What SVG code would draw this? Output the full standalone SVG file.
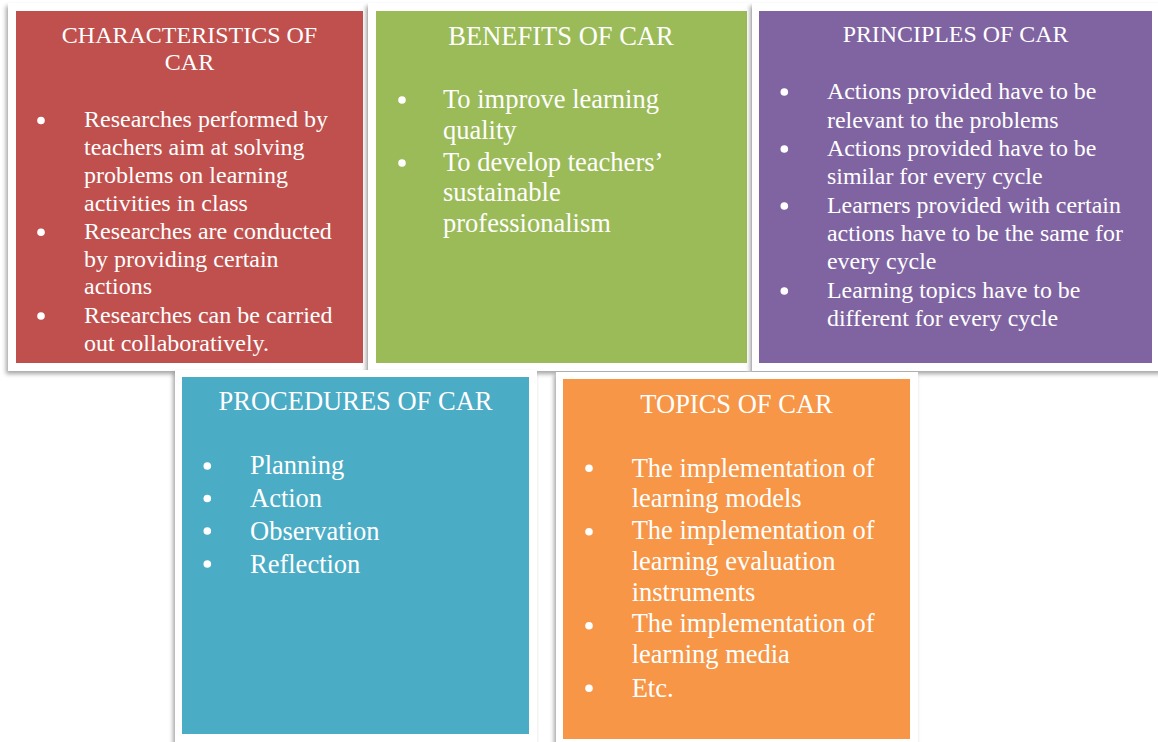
<svg xmlns="http://www.w3.org/2000/svg" width="1158" height="742" viewBox="0 0 1158 742">
<defs>
<filter id="sh" x="-10%" y="-10%" width="120%" height="120%">
<feDropShadow dx="-2" dy="3" stdDeviation="2" flood-color="#000" flood-opacity="0.35"/>
</filter>
</defs>
<style>
.frame{fill:#ffffff;filter:url(#sh)}
text{font-family:"Liberation Serif","Times New Roman",serif;fill:#ffffff}
.t{text-anchor:middle}
.b{fill:#ffffff}
</style>
<rect width="1158" height="742" fill="#ffffff"/>

<g id="characteristics">
<rect class="frame" x="8" y="3" width="359" height="368"/>
<rect x="16" y="11" width="347" height="352" fill="#C0504D"/>
<g font-size="24">
<text class="t" x="189.5" y="42.5">CHARACTERISTICS OF</text>
<text class="t" x="189.5" y="70">CAR</text>
<circle class="b" cx="41" cy="120.5" r="3.8"/>
<circle class="b" cx="41" cy="232.3" r="3.8"/>
<circle class="b" cx="41" cy="316" r="3.8"/>
<text x="84" y="127.3">Researches performed by</text>
<text x="84" y="155.2">teachers aim at solving</text>
<text x="84" y="183">problems on learning</text>
<text x="84" y="210.5">activities in class</text>
<text x="84" y="238.5">Researches are conducted</text>
<text x="84" y="266.5">by providing certain</text>
<text x="84" y="294.2">actions</text>
<text x="84" y="322.5">Researches can be carried</text>
<text x="84" y="350.5">out collaboratively.</text>
</g>
</g>

<g id="benefits">
<rect class="frame" x="368" y="3" width="383" height="368"/>
<rect x="376" y="11" width="371" height="352" fill="#9BBB59"/>
<g font-size="26.5">
<text class="t" x="561" y="45">BENEFITS OF CAR</text>
<circle class="b" cx="402" cy="100" r="3.8"/>
<circle class="b" cx="402" cy="163" r="3.8"/>
<text x="443" y="108.3">To improve learning</text>
<text x="443" y="139">quality</text>
<text x="443" y="170.5">To develop teachers’</text>
<text x="443" y="201">sustainable</text>
<text x="443" y="232">professionalism</text>
</g>
</g>

<g id="principles">
<rect class="frame" x="752" y="3" width="412" height="368"/>
<rect x="759" y="11" width="393" height="352" fill="#8064A2"/>
<g font-size="23.9">
<text class="t" x="955.5" y="41.7">PRINCIPLES OF CAR</text>
<circle class="b" cx="784.3" cy="92" r="3.8"/>
<circle class="b" cx="784.3" cy="149" r="3.8"/>
<circle class="b" cx="784.3" cy="206" r="3.8"/>
<circle class="b" cx="784.3" cy="291" r="3.8"/>
<text x="827" y="99.3">Actions provided have to be</text>
<text x="827" y="127.7">relevant to the problems</text>
<text x="827" y="156">Actions provided have to be</text>
<text x="827" y="184.3">similar for every cycle</text>
<text x="827" y="212.7">Learners provided with certain</text>
<text x="827" y="241">actions have to be the same for</text>
<text x="827" y="269.3">every cycle</text>
<text x="827" y="297.7">Learning topics have to be</text>
<text x="827" y="326">different for every cycle</text>
</g>
</g>

<g id="procedures">
<rect class="frame" x="175" y="370" width="362" height="380"/>
<rect x="182" y="377" width="347" height="357" fill="#4BACC6"/>
<g font-size="26.5">
<text class="t" x="355.5" y="410">PROCEDURES OF CAR</text>
<circle class="b" cx="207.3" cy="466" r="3.8"/>
<circle class="b" cx="207.3" cy="498.5" r="3.8"/>
<circle class="b" cx="207.3" cy="531" r="3.8"/>
<circle class="b" cx="207.3" cy="564" r="3.8"/>
<text x="250" y="473.5">Planning</text>
<text x="250" y="506.5">Action</text>
<text x="250" y="539.7">Observation</text>
<text x="250" y="572.7">Reflection</text>
</g>
</g>

<g id="topics">
<rect class="frame" x="556" y="372" width="362" height="380"/>
<rect x="563" y="379" width="347" height="360" fill="#F79646"/>
<g font-size="26.5">
<text class="t" x="736.5" y="413.3">TOPICS OF CAR</text>
<circle class="b" cx="589" cy="468.3" r="3.8"/>
<circle class="b" cx="589" cy="531.7" r="3.8"/>
<circle class="b" cx="589" cy="625.7" r="3.8"/>
<circle class="b" cx="589" cy="688.3" r="3.8"/>
<text x="631.7" y="476.5">The implementation of</text>
<text x="631.7" y="507">learning models</text>
<text x="631.7" y="538.5">The implementation of</text>
<text x="631.7" y="569.5">learning evaluation</text>
<text x="631.7" y="600.5">instruments</text>
<text x="631.7" y="632">The implementation of</text>
<text x="631.7" y="663">learning media</text>
<text x="631.7" y="696.7">Etc.</text>
</g>
</g>
</svg>
